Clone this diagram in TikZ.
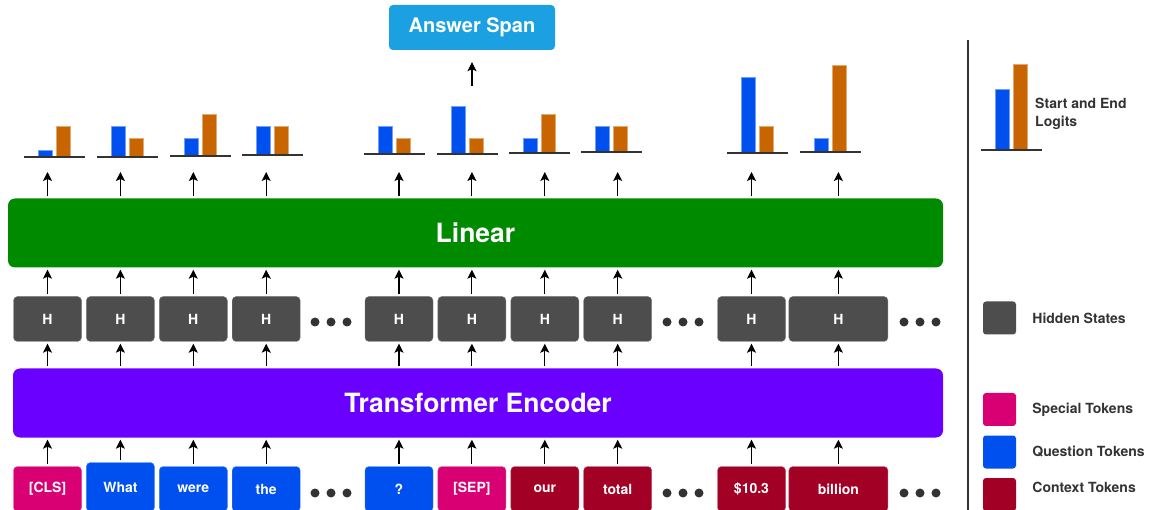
\documentclass[tikz,border=0pt]{standalone}
\usepackage{fontspec}
\setmainfont{TeX Gyre Heros}
\usetikzlibrary{positioning,arrows.meta}

\definecolor{specialc}{HTML}{D80073}
\definecolor{questc}{HTML}{0050EF}
\definecolor{contextc}{HTML}{A20025}
\definecolor{hiddenc}{HTML}{4D4D4D}
\definecolor{linearc}{HTML}{008A00}
\definecolor{encoderc}{HTML}{6A00FF}
\definecolor{answerc}{HTML}{1BA1E2}
\definecolor{startc}{HTML}{0050EF}
\definecolor{endc}{HTML}{C96500}
\definecolor{inkc}{HTML}{333333}

\tikzset{
  box/.style={rounded corners=4pt, text=white, inner sep=0pt,
    font=\bfseries\fontsize{14}{14}\selectfont,
    minimum height=45pt, minimum width=68pt},
  special/.style={box, fill=specialc, draw=specialc!75!white},
  quest/.style={box, fill=questc, draw=questc!75!white},
  context/.style={box, fill=contextc, draw=contextc!75!white},
  hid/.style={box, fill=hiddenc, draw=hiddenc!75!white},
  layer/.style={rounded corners=7pt, text=white, inner sep=0pt,
    font=\bfseries\fontsize{26.5}{26.5}\selectfont, minimum height=69pt},
  legbox/.style={rounded corners=3pt, minimum size=33pt, inner sep=0pt},
  legtext/.style={text=inkc, align=left, inner sep=0pt,
    font=\bfseries\fontsize{14}{18}\selectfont},
  up/.style={->, line width=1.1pt, shorten >=2pt, shorten <=2pt},
  dot/.style={inkc},
}

\begin{document}
\begin{tikzpicture}[x=1pt, y=-1pt, >={Stealth[length=9pt,width=9pt,inset=2pt]}]
  \useasboundingbox (0,0) rectangle (1154,510);

  %--- Input tokens
  \node[special] (t1) at (47.5,489) {[CLS]};
  \node[quest, minimum height=49pt, right=4.5pt of t1, yshift=2pt] (t2) {What};
  \node[quest, right=4.5pt of t2, yshift=-2pt] (t3) {were};
  \node[quest, right=4.5pt of t3] (t4) {the};
  \node[quest] (t5) at (399,489) {?};
  \node[special, right=4.5pt of t5] (t6) {[SEP]};
  \node[context, right=4.5pt of t6] (t7) {our};
  \node[context, right=4.5pt of t7] (t8) {total};
  \node[context] (t9) at (751.5,489) {\$10.3};
  \node[context, minimum width=99pt, right=3pt of t9] (t10) {billion};

  %--- Hidden states
  \coordinate (hrow) at (0,319);
  \foreach \i in {1,...,9}
    \node[hid] (h\i) at (t\i |- hrow) {H};
  \node[hid, minimum width=99pt] (h10) at (t10 |- hrow) {H};

  %--- Layers
  \node[layer, fill=encoderc, minimum width=930pt] (enc) at (478,403) {Transformer Encoder};
  \node[layer, fill=linearc, minimum width=935pt] (lin) at (475.5,233) {Linear};

  %--- Ellipses
  \foreach \x in {315,331,347,667,683,699,904,920,936} {
    \fill[dot] (\x,322) circle (4.5pt);
    \fill[dot] (\x,493) circle (4.5pt);
  }

  %--- Arrows between the rows
  \coordinate (logrow) at (0,170);
  \foreach \i in {1,...,10} {
    \draw[up] (t\i) -- (t\i |- enc.south);
    \draw[up] (enc.north -| h\i) -- (h\i);
    \draw[up] (h\i) -- (lin.south -| h\i);
    \draw[up] (lin.north -| h\i) -- (h\i |- logrow);
  }

  %--- Start and end logits (centre/base/start top/end top)
  \foreach \c/\b/\bt/\ot in {54/156/150/126, 127/156/126/138, 200/155/138/114,
      272/154/126/126, 394/153/126/138, 467/153/106/138, 539/152/138/114,
      611/151/126/126, 757/152/77/126, 830/151/138/65, 1011/149/89/64} {
    \filldraw[fill=startc, draw=startc!55!white, line width=0.5pt] (\c-16,\b) rectangle (\c-2,\bt);
    \filldraw[fill=endc, draw=endc!55!white, line width=0.5pt] (\c+2,\b) rectangle (\c+16,\ot);
    \draw[inkc, line width=2.2pt] (\c-30,\b+1) -- (\c+31,\b+1);
  }

  %--- Answer span
  \node[fill=answerc, rounded corners=4pt, minimum width=166pt, minimum height=45pt,
        text=white, font=\bfseries\fontsize{20}{20}\selectfont] (ans) at (472,27.5) {Answer Span};
  \coordinate (span) at (472,86);
  \draw[->, line width=1.1pt, shorten >=12pt] (span) -- (ans);

  %--- Legend
  \draw[inkc, line width=1.8pt] (968,40) -- (968,512);
  \node[legtext, anchor=west] (llog) at (1035,114) {Start and End\\Logits};
  \node[legbox, fill=hiddenc] (lhid) at (999.5,318) {};
  \node[legtext, right=16pt of lhid] {Hidden States};
  \node[legbox, fill=specialc] (lspe) at (999.5,409.5) {};
  \node[legtext, right=16pt of lspe] {Special Tokens};
  \node[legbox, fill=questc] (lque) at (999.5,452) {};
  \node[legtext, right=16pt of lque] {Question Tokens};
  \node[legbox, fill=contextc] (lctx) at (999.5,494.5) {};
  \node[legtext, right=16pt of lctx, yshift=7pt] {Context Tokens};

\end{tikzpicture}
\end{document}
